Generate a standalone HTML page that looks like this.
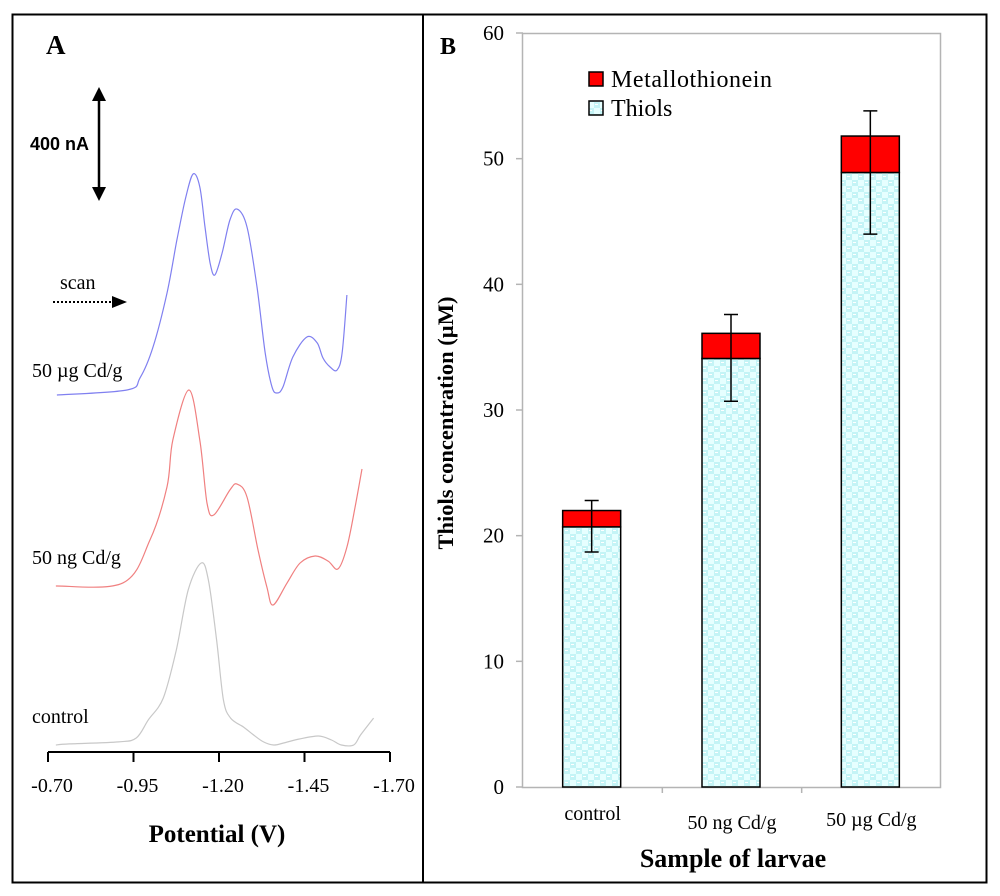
<!DOCTYPE html>
<html><head><meta charset="utf-8"><style>
body{margin:0;background:#fff;}
svg{display:block;font-family:"Liberation Serif",serif;}
</style></head><body>
<svg width="1000" height="896" viewBox="0 0 1000 896">
<defs>
<pattern id="chk" width="12" height="12" patternUnits="userSpaceOnUse">
<rect width="12" height="12" fill="#e6ffff"/>
<rect width="6" height="6" fill="#c4f4f6"/>
<rect x="6" y="6" width="6" height="6" fill="#c4f4f6"/>
<rect x="1" y="2" width="3" height="1" fill="#fff"/>
<rect x="7" y="8" width="3" height="1" fill="#fff"/>
</pattern>
</defs>
<rect x="12.5" y="14.5" width="974" height="868" fill="none" stroke="#000" stroke-width="2"/>
<line x1="423" y1="14" x2="423" y2="883" stroke="#000" stroke-width="2"/>

<g id="panelA">
<text x="46" y="54" font-size="27" font-weight="bold">A</text>
<text x="30" y="150" font-size="18" font-weight="bold" font-family="Liberation Sans,sans-serif" textLength="59">400 nA</text>
<line x1="99" y1="98" x2="99" y2="190" stroke="#000" stroke-width="2.5"/>
<polygon points="99,87 92,101 106,101" fill="#000"/>
<polygon points="99,201 92,187 106,187" fill="#000"/>
<text x="60" y="289" font-size="20">scan</text>
<line x1="53" y1="302" x2="113" y2="302" stroke="#000" stroke-width="2" stroke-dasharray="2,2"/>
<polygon points="127,302 112,296 112,308" fill="#000"/>
<text x="32" y="377" font-size="20">50 µg Cd/g</text>
<text x="32" y="564" font-size="20">50 ng Cd/g</text>
<text x="32" y="723" font-size="20">control</text>
<line x1="48" y1="752" x2="390" y2="752" stroke="#000" stroke-width="2"/>
<g id="ticksA"></g>
<text x="217" y="842" font-size="25" font-weight="bold" text-anchor="middle">Potential (V)</text>
<g id="curves"></g>
</g>

<g id="panelB">
<text x="440" y="54" font-size="24" font-weight="bold">B</text>
<rect x="522.5" y="33.5" width="418" height="754" fill="none" stroke="#b4b4b4" stroke-width="1.5"/>
<g id="ticksB"></g>
<g id="bars"></g>
<text transform="translate(453,423) rotate(-90)" font-size="22.5" font-weight="bold" text-anchor="middle">Thiols concentration (µM)</text>
<text x="733" y="867" font-size="26" font-weight="bold" text-anchor="middle">Sample of larvae</text>
<rect x="589" y="72" width="14" height="14" fill="#f00" stroke="#000" stroke-width="1.5"/>
<text x="611" y="87" font-size="24" textLength="161">Metallothionein</text>
<rect x="589" y="101" width="14" height="14" fill="url(#chk)" stroke="#000" stroke-width="1.5"/>
<text x="611" y="116" font-size="24">Thiols</text>
</g>
</svg>
<script>
var NS="http://www.w3.org/2000/svg";
// Panel A data
var potTicks=[-0.70,-0.95,-1.20,-1.45,-1.70];
var blueV=[-0.726,-0.931,-0.969,-1.007,-1.048,-1.077,-1.101,-1.124,-1.144,-1.159,-1.174,-1.188,-1.209,-1.232,-1.253,-1.282,-1.311,-1.335,-1.355,-1.370,-1.387,-1.416,-1.457,-1.487,-1.504,-1.525,-1.545,-1.560,-1.574];
var blueI=[0,18,61,171,364,554,696,789,743,600,471,429,507,625,664,600,386,150,29,7,29,136,207,186,132,100,89,150,357];
var redV=[-0.723,-0.919,-0.998,-1.048,-1.065,-1.112,-1.144,-1.165,-1.185,-1.232,-1.253,-1.282,-1.314,-1.340,-1.358,-1.399,-1.437,-1.481,-1.519,-1.548,-1.574,-1.598,-1.618];
var redI=[0,11,164,354,521,700,521,296,254,343,364,318,129,-4,-68,11,82,107,89,61,139,282,418];
var grayV=[-0.723,-0.763,-0.906,-0.958,-0.993,-1.037,-1.075,-1.110,-1.148,-1.169,-1.193,-1.213,-1.234,-1.272,-1.301,-1.330,-1.360,-1.389,-1.433,-1.491,-1.529,-1.558,-1.594,-1.614,-1.652];
var grayI=[0,4,11,25,89,168,339,554,650,589,375,161,96,64,36,11,0,7,21,32,18,0,0,36,96];
// Panel B data
var categories=["control","50 ng Cd/g","50 µg Cd/g"];
var thiols=[20.7,34.1,48.9];
var totals=[22.0,36.1,51.8];
var errLow=[18.7,30.7,44.0];
var errHigh=[22.8,37.6,53.8];
var yTicks=[0,10,20,30,40,50,60];

function px(v){return 48+(-0.70-v)*342;}
function mk(tag,attrs,parent){var e=document.createElementNS(NS,tag);for(var k in attrs)e.setAttribute(k,attrs[k]);parent.appendChild(e);return e;}
var tA=document.getElementById('ticksA');
potTicks.forEach(function(v){
  var x=px(v);
  var l=mk('line',{x1:x,y1:752,x2:x,y2:762,stroke:'#000','stroke-width':2},tA);
  
  
  var t=mk('text',{x:x+4,y:792,'font-size':20,'text-anchor':'middle'},tA);
  t.textContent=v.toFixed(2);
  
  
});
function smooth(pts){
  var d='M'+pts[0][0]+','+pts[0][1];
  for(var i=0;i<pts.length-1;i++){
    var p0=pts[Math.max(0,i-1)],p1=pts[i],p2=pts[i+1],p3=pts[Math.min(pts.length-1,i+2)];
    var c1x=p1[0]+(p2[0]-p0[0])/6,c1y=p1[1]+(p2[1]-p0[1])/6;
    var c2x=p2[0]-(p3[0]-p1[0])/6,c2y=p2[1]-(p3[1]-p1[1])/6;
    d+=' C'+c1x.toFixed(1)+','+c1y.toFixed(1)+' '+c2x.toFixed(1)+','+c2y.toFixed(1)+' '+p2[0].toFixed(1)+','+p2[1].toFixed(1);
  }
  return d;
}
var cg=document.getElementById('curves');
var nApx=0.28;
[[blueV,blueI,395,'#8080f0','curve-50ug'],[redV,redI,586,'#f08080','curve-50ng'],[grayV,grayI,745,'#c8c8c8','curve-control']].forEach(function(s){
  var pts=s[0].map(function(v,i){return [px(v),s[2]-s[1][i]*nApx];});
  var p=mk('path',{d:smooth(pts),fill:'none',stroke:s[3],'stroke-width':1.2},cg);
  
  
});
function yb(v){return 787-v*(787-33)/60;}
var tB=document.getElementById('ticksB');
yTicks.forEach(function(v){
  var y=yb(v);
  var l=mk('line',{x1:516,y1:y,x2:523,y2:y,stroke:'#b4b4b4','stroke-width':1.5},tB);
  
  
  var t=mk('text',{x:504,y:y+7,'font-size':21,'text-anchor':'end'},tB);
  t.textContent=v;
  
  
});
var bg=document.getElementById('bars');
var cw=418/categories.length;
var labY=[820,829,826];
categories.forEach(function(c,i){
  var cx=523+cw*(i+0.5)-1, w=58, x0=cx-w/2;
  if(i>0){var tk=mk('line',{x1:523+cw*i,y1:787,x2:523+cw*i,y2:793,stroke:'#b4b4b4','stroke-width':1.5},bg);
    
    }
  var r1=mk('rect',{x:x0,y:yb(thiols[i]),width:w,height:yb(0)-yb(thiols[i]),fill:'url(#chk)',stroke:'#000','stroke-width':1.5},bg);
  
  
  var r2=mk('rect',{x:x0,y:yb(totals[i]),width:w,height:yb(thiols[i])-yb(totals[i]),fill:'#f00',stroke:'#000','stroke-width':1.5},bg);
  
  
  var e=mk('path',{d:'M'+cx+','+yb(errLow[i])+'V'+yb(errHigh[i])+'M'+(cx-7)+','+yb(errLow[i])+'h14M'+(cx-7)+','+yb(errHigh[i])+'h14',stroke:'#000','stroke-width':1.5,fill:'none'},bg);
  
  
  var t=mk('text',{x:cx+1,y:labY[i],'font-size':20,'text-anchor':'middle'},bg);
  t.textContent=c;
  
  
});
</script>
</body></html>
